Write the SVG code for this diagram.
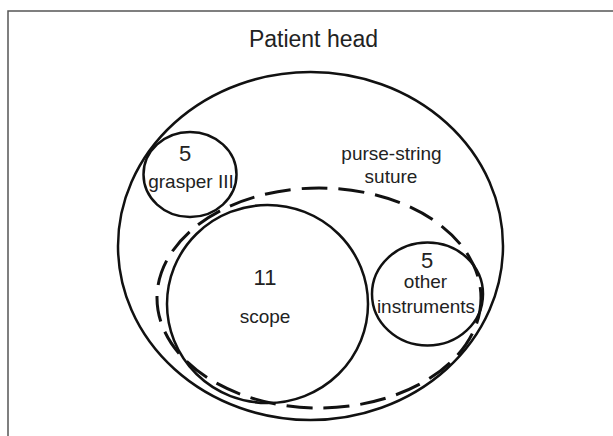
<svg xmlns="http://www.w3.org/2000/svg" width="613" height="436" viewBox="0 0 613 436">
  <style>
    .shape { fill: none; stroke: #111; stroke-width: 2.5; }
    .dash { fill: none; stroke: #111; stroke-width: 3; stroke-dasharray: 26 11; }
    .lbl { font-family: "Liberation Sans", Arial, sans-serif; font-size: 19px; fill: #222; text-anchor: middle; }
    .num { font-family: "Liberation Sans", Arial, sans-serif; font-size: 22px; fill: #222; text-anchor: middle; }
    .title { font-family: "Liberation Sans", Arial, sans-serif; font-size: 23px; fill: #222; text-anchor: middle; }
  </style>
  <rect width="613" height="436" fill="#fff"/>
  <g id="frame">
    <polyline points="8,436 8,11 613,11" fill="none" stroke="#555" stroke-width="1.5"/>
  </g>
  <g id="patient-head">
    <ellipse class="shape" cx="310.5" cy="246" rx="192.5" ry="174"/>
    <text class="title" x="313.5" y="47">Patient head</text>
  </g>
  <g id="purse-string-suture">
    <ellipse class="dash" cx="319" cy="298" rx="162" ry="110"/>
    <text class="lbl" x="391.5" y="160">purse-string</text>
    <text class="lbl" x="391" y="183">suture</text>
  </g>
  <g id="grasper">
    <ellipse class="shape" cx="190" cy="174.5" rx="46.5" ry="42.5"/>
    <text class="num" x="185" y="161">5</text>
    <text class="lbl" x="191" y="188">grasper III</text>
  </g>
  <g id="scope">
    <ellipse class="shape" cx="267.5" cy="304" rx="100.5" ry="99"/>
    <text class="num" x="265" y="285">11</text>
    <text class="lbl" x="265" y="323">scope</text>
  </g>
  <g id="other-instruments">
    <ellipse class="shape" cx="427.5" cy="294" rx="55.5" ry="51.5"/>
    <text class="num" x="427" y="268">5</text>
    <text class="lbl" x="425.5" y="288">other</text>
    <text class="lbl" x="426" y="313">instruments</text>
  </g>
  <g id="connectors"/>
</svg>
